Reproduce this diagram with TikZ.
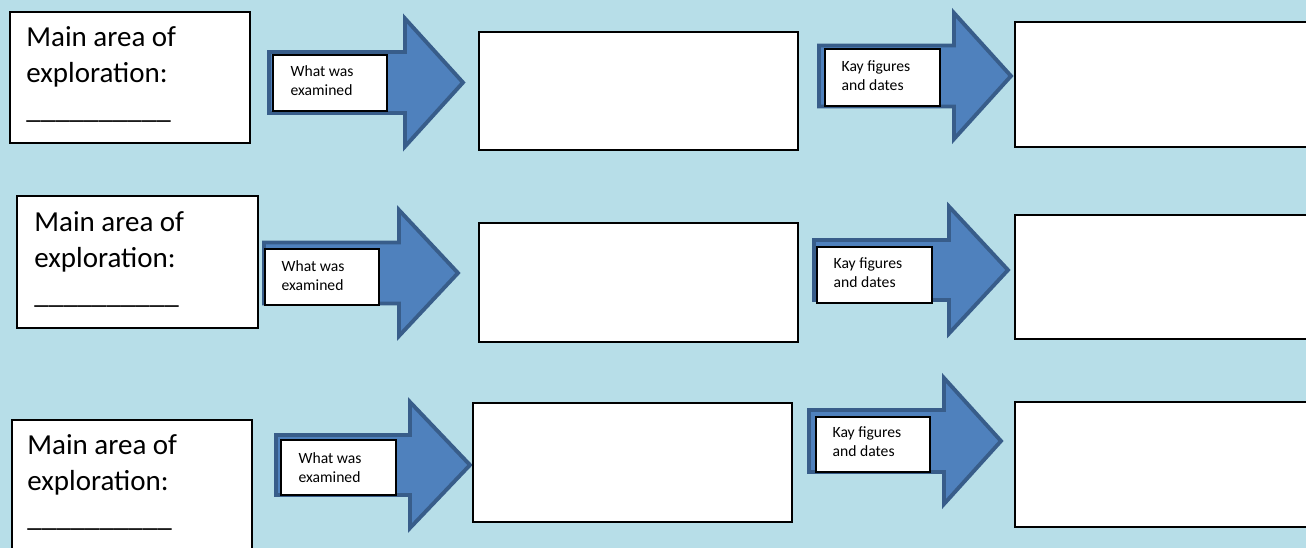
\documentclass[tikz,border=0pt]{standalone}
\usepackage{fontspec}
\setmainfont{Carlito}
\usepackage{tikz}
\usetikzlibrary{positioning,fit}
\definecolor{bgblue}{HTML}{B7DEE8}
\definecolor{arrowfill}{HTML}{4F81BD}
\definecolor{arrowline}{HTML}{385D8A}
\tikzset{
  mainbox/.style={draw=black, line width=1.1pt, fill=white, inner sep=0pt},
  blankbox/.style={draw=black, line width=1.1pt, fill=white, inner sep=0pt},
  tagbox/.style={draw=black, line width=0.8pt, fill=white, inner sep=0pt},
  bigtext/.style={font=\fontsize{16.5pt}{20pt}\selectfont, inner sep=0pt, anchor=base west},
  smalltext/.style={font=\fontsize{8.9pt}{11pt}\selectfont, inner sep=0pt, anchor=base west},
  blockarrow/.style={draw=arrowline, fill=arrowfill, line width=2.2pt, line join=miter}
}
% #1 left x, #2 centre y, #3 shaft half height, #4 head x, #5 head half height, #6 tip x
\newcommand{\bigarrow}[6]{%
  \draw[blockarrow] (#1,#2-#3) -- (#4,#2-#3) -- (#4,#2-#5) -- (#6,#2)
    -- (#4,#2+#5) -- (#4,#2+#3) -- (#1,#2+#3) -- cycle;}

\begin{document}
\begin{tikzpicture}[x=0.02cm,y=-0.02cm]
        \useasboundingbox (0,0) rectangle (1306,548);
        \fill[bgblue] (0,0) rectangle (1306,548);

        % arrows
        \bigarrow{269}{82.5}{30.5}{405}{64}{463}
        \bigarrow{819}{76}{30.5}{954}{63}{1011}
        \bigarrow{264}{273}{30.5}{399}{63}{458}
        \bigarrow{814}{270}{30}{949}{63.5}{1008}
        \bigarrow{276}{465}{30}{410}{63}{470}
        \bigarrow{809}{441}{31}{944}{63}{1001}

        % row 1
        \node[mainbox, fit={(10,12) (250,143)}] (mainA) {};
        \node[tagbox, fit={(273,55) (387,111)}] (whatA) {};
        \node[blankbox, fit={(479,32) (798,150)}] (midA) {};
        \node[tagbox, fit={(825,49) (940,106)}] (kayA) {};
        \node[blankbox, fit={(1015,22) (1312,147)}] (endA) {};

        % row 2
        \node[mainbox, fit={(17,196) (258,328)}] (mainB) {};
        \node[tagbox, fit={(265,249) (379,305)}] (whatB) {};
        \node[blankbox, fit={(479,223) (798,342)}] (midB) {};
        \node[tagbox, fit={(817,247) (932,303)}] (kayB) {};
        \node[blankbox, fit={(1015,215) (1312,339)}] (endB) {};

        % row 3
        \node[mainbox, fit={(12,420) (252,560)}] (mainC) {};
        \node[tagbox, fit={(281,440) (396,495)}] (whatC) {};
        \node[blankbox, fit={(473,403) (792,522)}] (midC) {};
        \node[tagbox, fit={(816,417) (930,472)}] (kayC) {};
        \node[blankbox, fit={(1015,402) (1312,527)}] (endC) {};

        % texts
        \node[bigtext] (mainAa) at ([shift={(17,35)}]mainA.north west) {Main area of};
        \node[bigtext] (mainAb) at ([shift={(0,36)}]mainAa.base west) {exploration:};
        \node[bigtext] (mainAc) at ([shift={(0,36)}]mainAb.base west) {\_\_\_\_\_\_\_\_\_\_};
        \node[bigtext] (mainBa) at ([shift={(18,36)}]mainB.north west) {Main area of};
        \node[bigtext] (mainBb) at ([shift={(0,36)}]mainBa.base west) {exploration:};
        \node[bigtext] (mainBc) at ([shift={(0,36)}]mainBb.base west) {\_\_\_\_\_\_\_\_\_\_};
        \node[bigtext] (mainCa) at ([shift={(16,35)}]mainC.north west) {Main area of};
        \node[bigtext] (mainCb) at ([shift={(0,36)}]mainCa.base west) {exploration:};
        \node[bigtext] (mainCc) at ([shift={(0,36)}]mainCb.base west) {\_\_\_\_\_\_\_\_\_\_};

        \node[smalltext] (whatAa) at ([shift={(18,22)}]whatA.north west) {What was};
        \node[smalltext] (whatAb) at ([shift={(0,19)}]whatAa.base west) {examined};
        \node[smalltext] (whatBa) at ([shift={(17,23)}]whatB.north west) {What was};
        \node[smalltext] (whatBb) at ([shift={(0,19)}]whatBa.base west) {examined};
        \node[smalltext] (whatCa) at ([shift={(18,24)}]whatC.north west) {What was};
        \node[smalltext] (whatCb) at ([shift={(0,19)}]whatCa.base west) {examined};

        \node[smalltext] (kayAa) at ([shift={(17,23)}]kayA.north west) {Kay figures};
        \node[smalltext] (kayAb) at ([shift={(0,19)}]kayAa.base west) {and dates};
        \node[smalltext] (kayBa) at ([shift={(17,22)}]kayB.north west) {Kay figures};
        \node[smalltext] (kayBb) at ([shift={(0,19)}]kayBa.base west) {and dates};
        \node[smalltext] (kayCa) at ([shift={(17,21)}]kayC.north west) {Kay figures};
        \node[smalltext] (kayCb) at ([shift={(0,19)}]kayCa.base west) {and dates};

    \end{tikzpicture}
\end{document}
